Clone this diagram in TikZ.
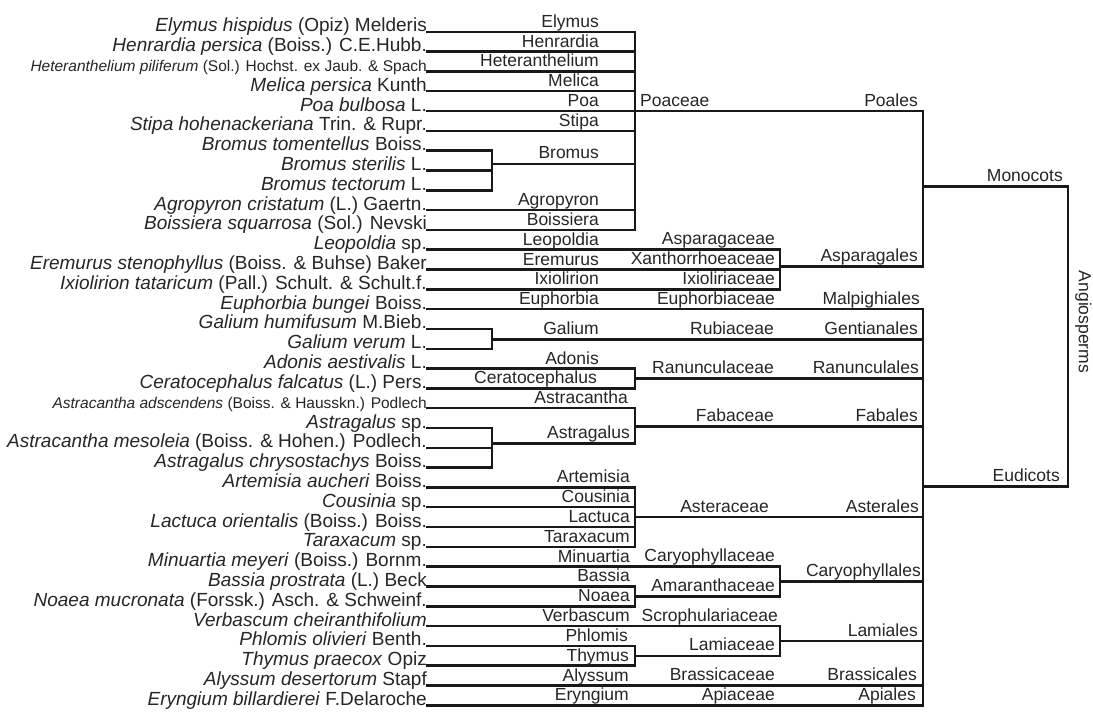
\documentclass[tikz,border=0pt]{standalone}
\usepackage{fontspec}
\setmainfont{Liberation Sans}
\newcommand\leaffont{\fontsize{19}{22}\selectfont}
\newcommand\smallleaffont{\fontsize{15.5}{18}\selectfont}
\newcommand\labfont{\fontsize{17.5}{20}\selectfont}
\pgfmathdeclarefunction{ly}{1}{\pgfmathparse{31.8+19.81*#1}}
\tikzset{
  leaf/.style={anchor=base east, inner sep=0pt, font=\leaffont, text=black!85},
  lab/.style={anchor=base east, inner sep=0pt, font=\labfont, text=black!85},
  labw/.style={anchor=base west, inner sep=0pt, font=\labfont, text=black!85},
  br/.style={line width=2.5pt, line cap=rect, black!90},
}
\begin{document}
\begin{tikzpicture}[x=1pt,y=-1pt]
\fill[white] (0,0) rectangle (1093,717);
\useasboundingbox (0,0) rectangle (1093,717);
% column coordinates
\coordinate (bx) at (492,0);
\coordinate (gx) at (635,0);
\coordinate (fx) at (780,0);
\coordinate (ox) at (923,0);
\coordinate (cx) at (1068,0);
% leaves
\node[leaf] (l0) at (427,{ly(0)}) {\textit{Elymus hispidus} (Opiz) Melderis};
\node[leaf] (l1) at (427,{ly(1)}) {\textit{Henrardia persica} (Boiss.) C.E.Hubb.};
\node[leaf,font=\smallleaffont] (l2) at (427,{ly(2)}) {\textit{Heteranthelium piliferum} (Sol.) Hochst. ex Jaub. \& Spach};
\node[leaf] (l3) at (427,{ly(3)}) {\textit{Melica persica} Kunth};
\node[leaf] (l4) at (427,{ly(4)}) {\textit{Poa bulbosa} L.};
\node[leaf] (l5) at (427,{ly(5)}) {\textit{Stipa hohenackeriana} Trin. \& Rupr.};
\node[leaf] (l6) at (427,{ly(6)}) {\textit{Bromus tomentellus} Boiss.};
\node[leaf] (l7) at (427,{ly(7)}) {\textit{Bromus sterilis} L.};
\node[leaf] (l8) at (427,{ly(8)}) {\textit{Bromus tectorum} L.};
\node[leaf] (l9) at (427,{ly(9)}) {\textit{Agropyron cristatum} (L.) Gaertn.};
\node[leaf] (l10) at (427,{ly(10)}) {\textit{Boissiera squarrosa} (Sol.) Nevski};
\node[leaf] (l11) at (427,{ly(11)}) {\textit{Leopoldia} sp.};
\node[leaf] (l12) at (427,{ly(12)}) {\textit{Eremurus stenophyllus} (Boiss. \& Buhse) Baker};
\node[leaf] (l13) at (427,{ly(13)}) {\textit{Ixiolirion tataricum} (Pall.) Schult. \& Schult.f.};
\node[leaf] (l14) at (427,{ly(14)}) {\textit{Euphorbia bungei} Boiss.};
\node[leaf] (l15) at (427,{ly(15)}) {\textit{Galium humifusum} M.Bieb.};
\node[leaf] (l16) at (427,{ly(16)}) {\textit{Galium verum} L.};
\node[leaf] (l17) at (427,{ly(17)}) {\textit{Adonis aestivalis} L.};
\node[leaf] (l18) at (427,{ly(18)}) {\textit{Ceratocephalus falcatus} (L.) Pers.};
\node[leaf,font=\smallleaffont] (l19) at (427,{ly(19)}) {\textit{Astracantha adscendens} (Boiss. \& Hausskn.) Podlech};
\node[leaf] (l20) at (427,{ly(20)}) {\textit{Astragalus} sp.};
\node[leaf] (l21) at (427,{ly(21)}) {\textit{Astracantha mesoleia} (Boiss. \& Hohen.) Podlech.};
\node[leaf] (l22) at (427,{ly(22)}) {\textit{Astragalus chrysostachys} Boiss.};
\node[leaf] (l23) at (427,{ly(23)}) {\textit{Artemisia aucheri} Boiss.};
\node[leaf] (l24) at (427,{ly(24)}) {\textit{Cousinia} sp.};
\node[leaf] (l25) at (427,{ly(25)}) {\textit{Lactuca orientalis} (Boiss.) Boiss.};
\node[leaf] (l26) at (427,{ly(26)}) {\textit{Taraxacum} sp.};
\node[leaf] (l27) at (427,{ly(27)}) {\textit{Minuartia meyeri} (Boiss.) Bornm.};
\node[leaf] (l28) at (427,{ly(28)}) {\textit{Bassia prostrata} (L.) Beck};
\node[leaf] (l29) at (427,{ly(29)}) {\textit{Noaea mucronata} (Forssk.) Asch. \& Schweinf.};
\node[leaf] (l30) at (427,{ly(30)}) {\textit{Verbascum cheiranthifolium}};
\node[leaf] (l31) at (427,{ly(31)}) {\textit{Phlomis olivieri} Benth.};
\node[leaf] (l32) at (427,{ly(32)}) {\textit{Thymus praecox} Opiz};
\node[leaf] (l33) at (427,{ly(33)}) {\textit{Alyssum desertorum} Stapf};
\node[leaf] (l34) at (427,{ly(34)}) {\textit{Eryngium billardierei} F.Delaroche};
% junction coordinates
\coordinate (jbrom) at (492,164);
\coordinate (jasp) at (780,266.7);
\coordinate (jmono) at (923,186.7);
\coordinate (jgal) at (492,339.3);
\coordinate (jran) at (635,378.3);
\coordinate (jastg) at (492,443.3);
\coordinate (jfab) at (635,426.7);
\coordinate (jastr) at (635,517);
\coordinate (jama) at (635,596.4);
\coordinate (jcar) at (780,581.5);
\coordinate (jlam) at (635,655.8);
\coordinate (jlml) at (780,641);
\coordinate (jeud) at (923,486.7);
% ---- Poaceae
\foreach \i in {0,1,2,3,5,9,10} {\draw[br] (l\i.base east) -- (l\i.base east -| gx);}
\draw[br] (l4.base east) -- (l4.base east -| ox);
\foreach \i in {6,7,8} {\draw[br] (l\i.base east) -- (l\i.base east -| bx);}
\draw[br] (l6.base east -| bx) -- (l8.base east -| bx);
\draw[br] (jbrom) -- (jbrom -| gx);
\draw[br] (l0.base east -| gx) -- (l10.base east -| gx);
% ---- Asparagales
\foreach \i in {11,12,13} {\draw[br] (l\i.base east) -- (l\i.base east -| fx);}
\draw[br] (l11.base east -| fx) -- (l13.base east -| fx);
\draw[br] (jasp) -- (jasp -| ox);
\draw[br] (l4.base east -| ox) -- (jasp -| ox);
\draw[br] (jmono) -- (jmono -| cx);
% ---- Eudicots
\draw[br] (l14.base east) -- (l14.base east -| ox);
\foreach \i in {15,16} {\draw[br] (l\i.base east) -- (l\i.base east -| bx);}
\draw[br] (l15.base east -| bx) -- (l16.base east -| bx);
\draw[br] (jgal) -- (jgal -| ox);
\foreach \i in {17,18} {\draw[br] (l\i.base east) -- (l\i.base east -| gx);}
\draw[br] (l17.base east -| gx) -- (l18.base east -| gx);
\draw[br] (jran) -- (jran -| ox);
\draw[br] (l19.base east) -- (l19.base east -| gx);
\foreach \i in {20,21,22} {\draw[br] (l\i.base east) -- (l\i.base east -| bx);}
\draw[br] (l20.base east -| bx) -- (l22.base east -| bx);
\draw[br] (jastg) -- (jastg -| gx);
\draw[br] (l19.base east -| gx) -- (jastg -| gx);
\draw[br] (jfab) -- (jfab -| ox);
\foreach \i in {23,24,25,26} {\draw[br] (l\i.base east) -- (l\i.base east -| gx);}
\draw[br] (l23.base east -| gx) -- (l26.base east -| gx);
\draw[br] (jastr) -- (jastr -| ox);
\draw[br] (l27.base east) -- (l27.base east -| fx);
\foreach \i in {28,29} {\draw[br] (l\i.base east) -- (l\i.base east -| gx);}
\draw[br] (l28.base east -| gx) -- (l29.base east -| gx);
\draw[br] (jama) -- (jama -| fx);
\draw[br] (l27.base east -| fx) -- (jama -| fx);
\draw[br] (jcar) -- (jcar -| ox);
\draw[br] (l30.base east) -- (l30.base east -| fx);
\foreach \i in {31,32} {\draw[br] (l\i.base east) -- (l\i.base east -| gx);}
\draw[br] (l31.base east -| gx) -- (l32.base east -| gx);
\draw[br] (jlam) -- (jlam -| fx);
\draw[br] (l30.base east -| fx) -- (jlam -| fx);
\draw[br] (jlml) -- (jlml -| ox);
\foreach \i in {33,34} {\draw[br] (l\i.base east) -- (l\i.base east -| ox);}
\draw[br] (l14.base east -| ox) -- (l34.base east -| ox);
\draw[br] (jeud) -- (jeud -| cx);
\draw[br] (jmono -| cx) -- (jeud -| cx);
% ---- genus labels
\node[lab] (gElymus) at (599,{ly(0)-4.5}) {Elymus};
\node[lab] (gHenrardia) at (599,{ly(1)-4.5}) {Henrardia};
\node[lab] (gHeteranthelium) at (599,{ly(2)-4.5}) {Heteranthelium};
\node[lab] (gMelica) at (599,{ly(3)-4.5}) {Melica};
\node[lab] (gPoa) at (599,{ly(4)-4.5}) {Poa};
\node[lab] (gStipa) at (599,{ly(5)-4.5}) {Stipa};
\node[lab] (gBromus) at (599,{164-6}) {Bromus};
\node[lab] (gAgropyron) at (599,{ly(9)-4.5}) {Agropyron};
\node[lab] (gBoissiera) at (599,{ly(10)-4.5}) {Boissiera};
\node[lab] (gLeopoldia) at (599,{ly(11)-4.5}) {Leopoldia};
\node[lab] (gEremurus) at (599,{ly(12)-4.5}) {Eremurus};
\node[lab] (gIxiolirion) at (599,{ly(13)-4.5}) {Ixiolirion};
\node[lab] (gEuphorbia) at (599,{ly(14)-4.5}) {Euphorbia};
\node[lab] (gGalium) at (599,{339.3-5}) {Galium};
\node[lab] (gAdonis) at (599,{ly(17)-4.5}) {Adonis};
\node[lab] (gCeratocephalus) at (597,{ly(18)-4.5}) {Ceratocephalus};
\node[lab] (gAstracantha) at (628,{ly(19)-4.5}) {Astracantha};
\node[lab] (gAstragalus) at (630,{443.3-5}) {Astragalus};
\node[lab] (gArtemisia) at (630,{ly(23)-4.5}) {Artemisia};
\node[lab] (gCousinia) at (630,{ly(24)-4.5}) {Cousinia};
\node[lab] (gLactuca) at (630,{ly(25)-4.5}) {Lactuca};
\node[lab] (gTaraxacum) at (630,{ly(26)-4.5}) {Taraxacum};
\node[lab] (gMinuartia) at (630,{ly(27)-4.5}) {Minuartia};
\node[lab] (gBassia) at (630,{ly(28)-4.5}) {Bassia};
\node[lab] (gNoaea) at (630,{ly(29)-4.5}) {Noaea};
\node[lab] (gVerbascum) at (630,{ly(30)-4.5}) {Verbascum};
\node[lab] (gPhlomis) at (628,{ly(31)-4.5}) {Phlomis};
\node[lab] (gThymus) at (629,{ly(32)-4.5}) {Thymus};
\node[lab] (gAlyssum) at (629,{ly(33)-4.5}) {Alyssum};
\node[lab] (gEryngium) at (629,{ly(34)-4.5}) {Eryngium};
% ---- family labels
\node[labw] (fPoaceae) at (640,{ly(4)-5}) {Poaceae};
\node[lab] (fAsparagaceae) at (775,{ly(11)-5}) {Asparagaceae};
\node[lab] (fXanthorrhoeaceae) at (775,{ly(12)-5}) {Xanthorrhoeaceae};
\node[lab] (fIxioliriaceae) at (775,{ly(13)-5}) {Ixioliriaceae};
\node[lab] (fEuphorbiaceae) at (775,{ly(14)-5}) {Euphorbiaceae};
\node[lab] (fRubiaceae) at (774,{339.3-5}) {Rubiaceae};
\node[lab] (fRanunculaceae) at (774,{378.3-5}) {Ranunculaceae};
\node[lab] (fFabaceae) at (774,{426.7-5}) {Fabaceae};
\node[lab] (fAsteraceae) at (769,{517-5}) {Asteraceae};
\node[lab] (fCaryophyllaceae) at (775,{ly(27)-5}) {Caryophyllaceae};
\node[lab] (fAmaranthaceae) at (775,{596.4-5}) {Amaranthaceae};
\node[lab] (fScrophulariaceae) at (778,{ly(30)-5}) {Scrophulariaceae};
\node[lab] (fLamiaceae) at (775,{655.8-5}) {Lamiaceae};
\node[lab] (fBrassicaceae) at (775,{ly(33)-5}) {Brassicaceae};
\node[lab] (fApiaceae) at (775,{ly(34)-5}) {Apiaceae};
% ---- order labels
\node[lab] (oPoales) at (918,{ly(4)-5}) {Poales};
\node[lab] (oAsparagales) at (918,{266.7-5}) {Asparagales};
\node[lab] (oMalpighiales) at (920,{ly(14)-5}) {Malpighiales};
\node[lab] (oGentianales) at (918,{339.3-5}) {Gentianales};
\node[lab] (oRanunculales) at (919,{378.3-5}) {Ranunculales};
\node[lab] (oFabales) at (918,{426.7-5}) {Fabales};
\node[lab] (oAsterales) at (919,{517-5}) {Asterales};
\node[lab] (oCaryophyllales) at (921,{581.5-5}) {Caryophyllales};
\node[lab] (oLamiales) at (918,{641-5}) {Lamiales};
\node[lab] (oBrassicales) at (917,{ly(33)-5}) {Brassicales};
\node[lab] (oApiales) at (916,{ly(34)-5}) {Apiales};
% ---- classes
\node[lab] (cMonocots) at (1063,{186.7-5}) {Monocots};
\node[lab] (cEudicots) at (1060,{486.7-5}) {Eudicots};
\node[inner sep=0pt, font=\labfont, text=black!85, rotate=-90] (angio) at (1083.5,322) {Angiosperms};
\end{tikzpicture}
\end{document}
